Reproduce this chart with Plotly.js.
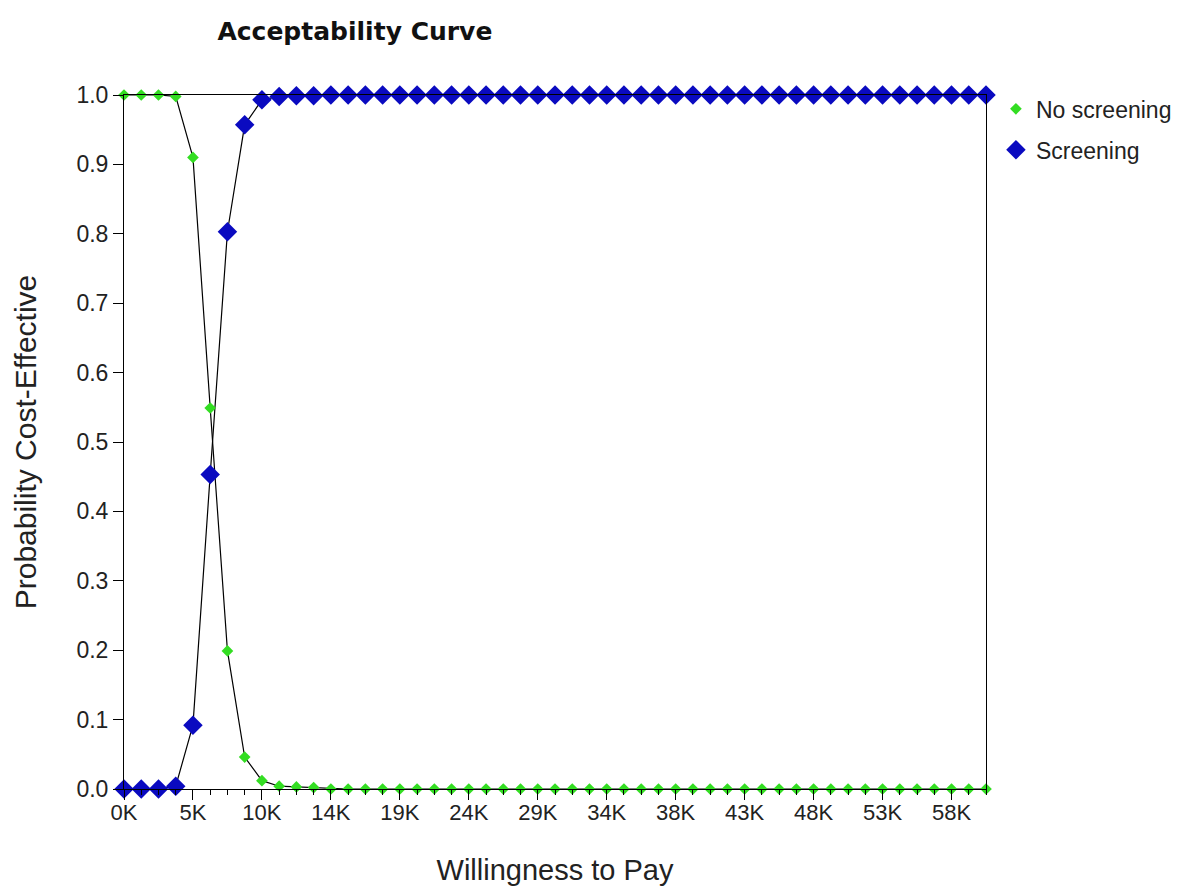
<!DOCTYPE html>
<html>
<head>
<meta charset="utf-8">
<script src="https://cdn.plot.ly/plotly-3.0.1.min.js"></script>
<style>html,body{margin:0;padding:0;background:#fff;}#chart{width:1187px;height:886px;}</style>
</head>
<body>
<div id="chart"></div>
<script>
// Willingness to pay (step 1.2K, 0 to 60K)
const wtp = [0,1200,2400,3600,4800,6000,7200,8400,9600,10800,12000,13200,14400,15600,16800,18000,19200,20400,21600,22800,24000,25200,26400,27600,28800,30000,31200,32400,33600,34800,36000,37200,38400,39600,40800,42000,43200,44400,45600,46800,48000,49200,50400,51600,52800,54000,55200,56400,57600,58800,60000];
const noScreening = [1.0,1.0,1.0,0.998,0.91,0.549,0.199,0.046,0.012,0.004,0.003,0.002,0,0,0,0,0,0,0,0,0,0,0,0,0,0,0,0,0,0,0,0,0,0,0,0,0,0,0,0,0,0,0,0,0,0,0,0,0,0,0];
const screening = [0,0,0,0.004,0.092,0.453,0.803,0.957,0.993,0.998,0.999,0.999,1,1,1,1,1,1,1,1,1,1,1,1,1,1,1,1,1,1,1,1,1,1,1,1,1,1,1,1,1,1,1,1,1,1,1,1,1,1,1];
const xTickVals = [0,4800,9600,14400,19200,24000,28800,33600,38400,43200,48000,52800,57600];
const xTickText = ["0K","5K","10K","14K","19K","24K","29K","34K","38K","43K","48K","53K","58K"];
const yTickVals = [0,0.1,0.2,0.3,0.4,0.5,0.6,0.7,0.8,0.9,1.0];

const traces = [
  {x: wtp, y: noScreening, mode: 'lines', line: {color: '#000', width: 1.2}, showlegend: false, hoverinfo: 'skip', cliponaxis: false},
  {x: wtp, y: screening, mode: 'lines', line: {color: '#000', width: 1.2}, showlegend: false, hoverinfo: 'skip', cliponaxis: false},
  {x: wtp, y: noScreening, mode: 'markers', name: 'No screening', legendgroup: 'a', marker: {symbol: 'diamond', size: 9, color: '#33dd22'}, cliponaxis: false},
  {x: wtp, y: screening, mode: 'markers', name: 'Screening', legendgroup: 'b', marker: {symbol: 'diamond', size: 15, color: '#0a0ac0'}, cliponaxis: false}
];

const layout = {
  width: 1187, height: 886,
  paper_bgcolor: '#fff', plot_bgcolor: '#fff',
  margin: {l: 124, r: 201, t: 95, b: 97, autoexpand: false},
  font: {family: 'Liberation Sans, Arial, sans-serif', color: '#222', size: 23},
  title: {text: 'Acceptability Curve', x: 0.299, xanchor: 'center', y: 0.965, yanchor: 'middle',
          font: {family: 'DejaVu Sans, Verdana, sans-serif', size: 25, color: '#111', weight: 'bold'}},
  xaxis: {
    range: [0, 60000], tickvals: xTickVals, ticktext: xTickText,
    ticks: 'outside', ticklen: 10, tickcolor: '#000', tickwidth: 1,
    minor: {dtick: 1200, tick0: 0, ticks: 'outside', ticklen: 5, tickcolor: '#000', tickwidth: 1, showgrid: false},
    showline: true, linecolor: '#000', linewidth: 1, mirror: true,
    showgrid: false, zeroline: false, automargin: false,
    ticklabelstandoff: -6,
    title: {text: 'Willingness to Pay', standoff: 36, font: {size: 29}},
    tickfont: {size: 22}
  },
  yaxis: {
    range: [0, 1], tickvals: yTickVals, tickformat: '.1f',
    ticks: 'outside', ticklen: 10, tickcolor: '#000', tickwidth: 1,
    showline: true, linecolor: '#000', linewidth: 1, mirror: true,
    showgrid: false, zeroline: false, automargin: false,
    title: {text: 'Probability Cost-Effective', standoff: 30, font: {size: 30}},
    tickfont: {size: 23}
  },
  legend: {x: 1.0115, xanchor: 'left', y: 1.011, yanchor: 'top', font: {size: 23}, bgcolor: 'rgba(0,0,0,0)', itemwidth: 30,
           traceorder: 'grouped', tracegroupgap: 8},
  showlegend: true
};

Plotly.newPlot('chart', traces, layout, {displayModeBar: false, staticPlot: true});
</script>
</body>
</html>
